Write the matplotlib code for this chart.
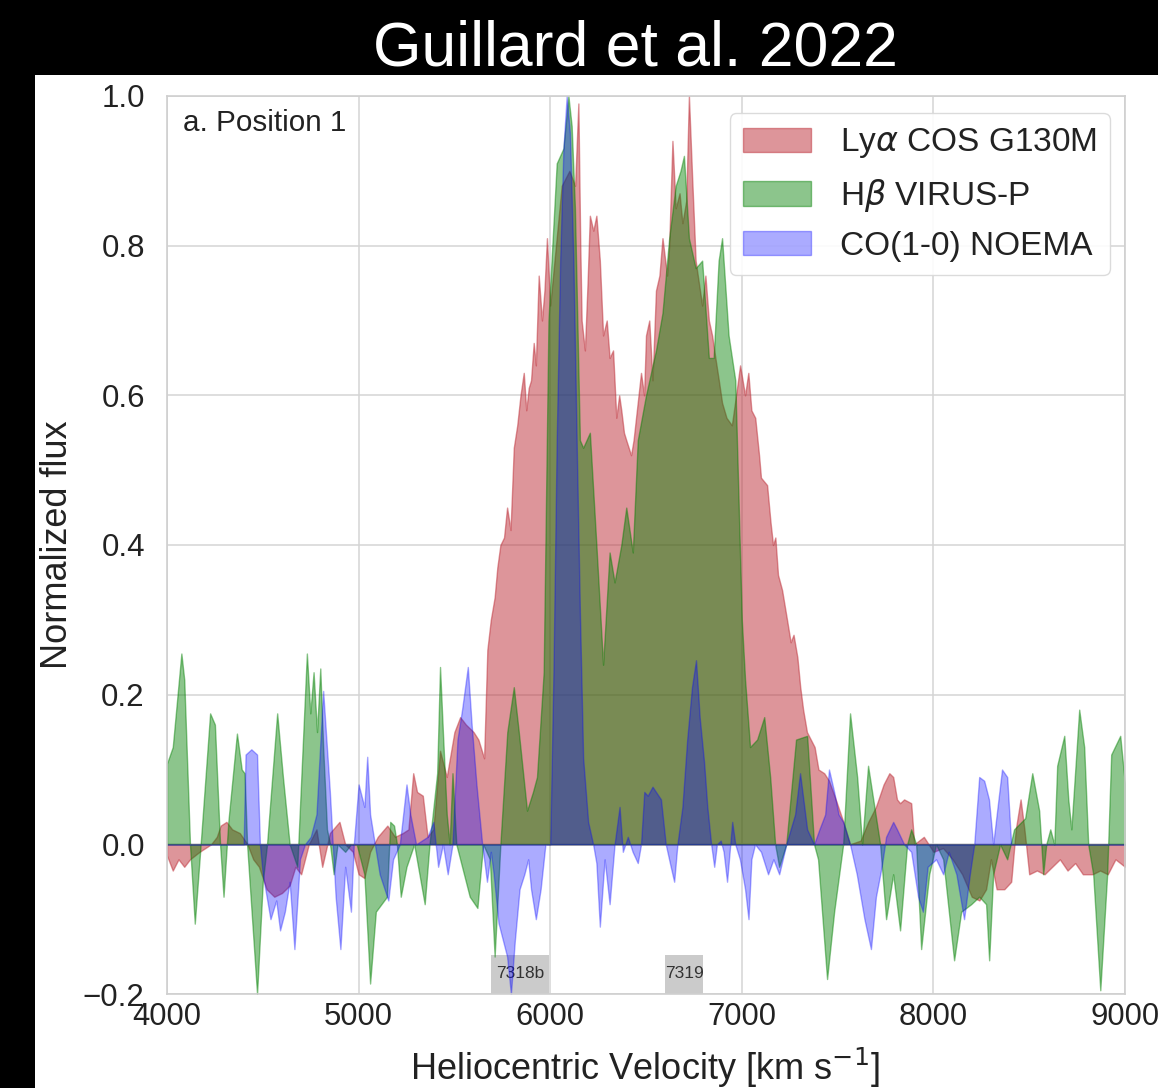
import numpy as np
import matplotlib
matplotlib.use('Agg')
import matplotlib.pyplot as plt
from matplotlib.patches import Rectangle

plt.rcParams['font.family'] = ['Liberation Sans', 'DejaVu Sans']
plt.rcParams['mathtext.fontset'] = 'dejavusans'

# Lya COS G130M
v_lya = [4000, 4030, 4060, 4090, 4120, 4170, 4200, 4230, 4260, 4280, 4310, 4340, 4380, 4420,
         4450, 4480, 4520, 4560, 4600, 4640, 4670, 4700, 4740, 4780, 4810, 4850, 4900, 4930,
         4970, 5000, 5030, 5060, 5100, 5150, 5190, 5230, 5260, 5285, 5305, 5335, 5360, 5390,
         5425, 5460, 5500, 5530, 5560, 5600, 5625, 5655, 5672, 5690, 5710, 5724, 5740, 5759,
         5775, 5793, 5810, 5828, 5845, 5862, 5875, 5888, 5900, 5914, 5925, 5940, 5957, 5970,
         5983, 6000, 6030, 6060, 6100, 6130, 6147, 6157, 6164, 6181, 6195, 6207, 6225, 6241,
         6259, 6276, 6295, 6310, 6328, 6345, 6360, 6371, 6385, 6397, 6422, 6435, 6448, 6474,
         6490, 6500, 6517, 6534, 6552, 6570, 6586, 6610, 6621, 6638, 6655, 6675, 6690, 6710,
         6724, 6741, 6759, 6776, 6793, 6810, 6828, 6845, 6862, 6880, 6897, 6920, 6948, 6970,
         6991, 7017, 7034, 7050, 7070, 7090, 7100, 7132, 7150, 7163, 7175, 7189, 7210, 7236,
         7255, 7270, 7290, 7305, 7320, 7340, 7360, 7380, 7400, 7430, 7455, 7490, 7530, 7565,
         7620, 7660, 7700, 7740, 7770, 7790, 7810, 7826, 7847, 7884, 7900, 7950, 8000, 8050,
         8100, 8150, 8200, 8240, 8275, 8300, 8330, 8370, 8406, 8430, 8455, 8475, 8500, 8540,
         8580, 8620, 8660, 8700, 8740, 8780, 8830, 8870, 8910, 8950, 9000]
f_lya = [-0.015, -0.035, -0.02, -0.03, -0.02, -0.01, -0.005, 0.0, 0.01, 0.025, 0.03, 0.02, 0.015, 0.0,
         -0.02, -0.03, -0.06, -0.07, -0.065, -0.055, -0.03, -0.04, 0.0, 0.02, -0.03, 0.015, 0.03, 0.0,
         -0.01, -0.04, -0.045, -0.01, 0.01, 0.025, 0.01, 0.015, 0.02, 0.095, 0.07, 0.065, 0.01, 0.02,
         0.125, 0.09, 0.15, 0.17, 0.16, 0.15, 0.14, 0.115, 0.26, 0.30, 0.33, 0.37, 0.40, 0.41,
         0.45, 0.42, 0.53, 0.56, 0.60, 0.63, 0.58, 0.61, 0.62, 0.67, 0.64, 0.76, 0.70, 0.74,
         0.81, 0.72, 0.80, 0.88, 0.90, 0.88, 0.99, 0.80, 0.70, 0.66, 0.75, 0.84, 0.82, 0.84,
         0.78, 0.68, 0.70, 0.65, 0.66, 0.57, 0.60, 0.58, 0.55, 0.54, 0.52, 0.54, 0.57, 0.63,
         0.60, 0.68, 0.70, 0.62, 0.74, 0.76, 0.81, 0.76, 0.80, 0.94, 0.85, 0.87, 0.83, 0.86,
         1.0, 0.89, 0.78, 0.75, 0.72, 0.76, 0.70, 0.68, 0.65, 0.62, 0.59, 0.57, 0.56, 0.60,
         0.64, 0.60, 0.63, 0.58, 0.57, 0.52, 0.49, 0.48, 0.43, 0.40, 0.41, 0.36, 0.34, 0.30,
         0.27, 0.28, 0.25, 0.21, 0.18, 0.15, 0.14, 0.13, 0.10, 0.095, 0.085, 0.06, 0.03, 0.0,
         0.005, 0.03, 0.05, 0.08, 0.095, 0.09, 0.06, 0.055, 0.06, 0.055, 0.0, 0.01, -0.01, -0.005,
         -0.02, -0.04, -0.07, -0.075, -0.06, -0.02, -0.06, -0.06, -0.05, 0.02, 0.06, 0.02, -0.04, -0.035,
         -0.04, -0.03, -0.02, -0.035, -0.025, -0.04, -0.04, -0.035, -0.04, -0.02, -0.03]

# Hb VIRUS-P
v_hb = [4000, 4030, 4075, 4090, 4120, 4145, 4170, 4225, 4250, 4277, 4295, 4320, 4365, 4390,
        4405, 4418, 4470, 4500, 4522, 4575, 4605, 4640, 4680, 4730, 4748, 4765, 4783, 4800,
        4815, 4835, 4851, 4870, 4890, 4930, 4960, 4990, 5030, 5060, 5090, 5148, 5165, 5185,
        5200, 5220, 5250, 5290, 5345, 5370, 5410, 5425, 5440, 5460, 5475, 5490, 5510, 5580,
        5620, 5650, 5685, 5710, 5740, 5776, 5810, 5836, 5879, 5910, 5931, 5966, 5991, 6009,
        6034, 6069, 6095, 6112, 6129, 6155, 6172, 6207, 6241, 6276, 6310, 6336, 6371, 6397,
        6431, 6457, 6500, 6552, 6586, 6621, 6655, 6680, 6698, 6724, 6759, 6793, 6828, 6853,
        6879, 6897, 6931, 6966, 6983, 7000, 7017, 7043, 7080, 7117, 7148, 7174, 7195, 7232,
        7283, 7341, 7377, 7398, 7445, 7482, 7529, 7565, 7602, 7628, 7659, 7695, 7722, 7753,
        7790, 7826, 7863, 7884, 7910, 7936, 7978, 8014, 8051, 8108, 8145, 8197, 8239, 8275,
        8291, 8312, 8348, 8385, 8421, 8479, 8516, 8552, 8573, 8589, 8610, 8631, 8646, 8683,
        8704, 8720, 8761, 8787, 8808, 8834, 8871, 8907, 8928, 8975, 9000]
f_hb = [0.108, 0.13, 0.255, 0.22, 0.0, -0.106, -0.02, 0.175, 0.16, 0.0, -0.07, 0.03, 0.148, 0.10,
        0.095, 0.0, -0.2, -0.05, 0.0, 0.175, 0.09, 0.0, -0.03, 0.255, 0.175, 0.23, 0.15, 0.235,
        0.13, 0.02, 0.0, -0.04, 0.0, -0.01, 0.0, 0.0, -0.04, -0.186, -0.09, -0.07, 0.03, 0.025,
        0.0, -0.07, -0.03, 0.0, -0.08, 0.0, 0.095, 0.237, 0.15, 0.04, 0.0, 0.095, 0.0, -0.07,
        -0.085, 0.0, -0.02, -0.15, 0.0, 0.15, 0.21, 0.15, 0.045, 0.07, 0.09, 0.23, 0.70, 0.79,
        0.91, 0.93, 1.0, 0.96, 0.85, 0.54, 0.53, 0.55, 0.40, 0.24, 0.39, 0.35, 0.40, 0.45,
        0.39, 0.54, 0.60, 0.66, 0.71, 0.81, 0.88, 0.90, 0.92, 0.81, 0.77, 0.78, 0.65, 0.65,
        0.78, 0.81, 0.68, 0.62, 0.46, 0.30, 0.22, 0.13, 0.14, 0.17, 0.09, 0.0, -0.03, 0.0,
        0.14, 0.145, 0.0, -0.02, -0.18, -0.09, 0.0, 0.175, 0.09, 0.0, 0.105, 0.045, 0.0, -0.10,
        -0.04, -0.115, 0.0, 0.02, 0.0, -0.14, -0.04, 0.0, -0.02, -0.155, -0.09, -0.08, -0.07, -0.08,
        -0.155, -0.04, 0.0, -0.02, 0.02, 0.035, 0.095, 0.045, -0.04, 0.0, 0.02, 0.0, 0.105, 0.145,
        0.06, 0.02, 0.18, 0.13, 0.0, -0.04, -0.195, -0.04, 0.12, 0.145, 0.08]

# CO(1-0) NOEMA
v_co = [4000, 4400, 4410, 4440, 4470, 4485, 4500, 4540, 4570, 4590, 4615, 4640, 4665, 4694,
        4720, 4750, 4780, 4815, 4850, 4865, 4880, 4905, 4930, 4960, 4975, 5000, 5030, 5045,
        5060, 5085, 5110, 5155, 5180, 5215, 5250, 5270, 5300, 5360, 5390, 5415, 5440, 5465,
        5490, 5516, 5540, 5570, 5590, 5615, 5645, 5670, 5690, 5705, 5730, 5755, 5775, 5795,
        5815, 5840, 5865, 5885, 5900, 5925, 5950, 5975, 6000, 6017, 6034, 6052, 6069, 6086,
        6103, 6121, 6138, 6155, 6172, 6198, 6224, 6241, 6259, 6284, 6310, 6336, 6362, 6379,
        6405, 6430, 6457, 6474, 6491, 6509, 6534, 6552, 6578, 6603, 6629, 6647, 6664, 6690,
        6715, 6740, 6761, 6780, 6803, 6820, 6840, 6856, 6870, 6890, 6905, 6923, 6950, 6966,
        6990, 7017, 7035, 7050, 7069, 7100, 7137, 7165, 7195, 7232, 7278, 7304, 7341, 7377,
        7405, 7435, 7455, 7482, 7505, 7529, 7565, 7600, 7640, 7674, 7700, 7730, 7753, 7790,
        7810, 7847, 7884, 7920, 7945, 7970, 8014, 8051, 8080, 8120, 8160, 8190, 8213, 8239,
        8265, 8290, 8312, 8328, 8358, 8385, 8406, 9000]
f_co = [0.0, 0.0, 0.12, 0.127, 0.12, 0.0, -0.04, -0.1, -0.075, -0.115, -0.09, -0.05, -0.14, -0.02,
        0.0, 0.01, 0.04, 0.205, 0.07, 0.0, -0.07, -0.14, -0.03, -0.09, 0.0, 0.08, 0.05, 0.117,
        0.04, 0.0, -0.04, -0.075, -0.02, 0.0, 0.08, 0.04, 0.0, 0.01, 0.03, -0.03, 0.0, -0.04,
        0.0, 0.14, 0.18, 0.237, 0.16, 0.08, 0.0, -0.05, -0.01, -0.04, -0.105, -0.13, -0.15, -0.2,
        -0.13, -0.06, -0.04, -0.02, -0.06, -0.1, -0.06, 0.0, 0.0, 0.23, 0.54, 0.78, 0.93, 1.0,
        0.95, 0.78, 0.54, 0.31, 0.115, 0.03, 0.0, -0.025, -0.11, -0.02, -0.08, 0.0, 0.05, -0.01,
        0.01, -0.01, -0.025, 0.0, 0.07, 0.065, 0.077, 0.07, 0.06, 0.0, -0.03, -0.05, 0.0, 0.05,
        0.14, 0.21, 0.246, 0.17, 0.11, 0.05, 0.0, -0.03, 0.0, 0.005, -0.01, -0.05, 0.03, 0.0,
        -0.02, -0.06, -0.1, -0.02, 0.0, -0.01, -0.04, -0.02, -0.04, 0.0, 0.04, 0.095, 0.02, 0.0,
        0.02, 0.04, 0.1, 0.07, 0.04, 0.03, 0.0, -0.04, -0.1, -0.14, -0.07, -0.03, 0.01, 0.03,
        0.02, 0.0, -0.01, -0.07, -0.09, -0.03, -0.02, -0.04, -0.01, -0.04, -0.1, -0.04, 0.0, 0.09,
        0.085, 0.06, 0.0, 0.035, 0.1, 0.09, 0.0, 0.0]

# velocity ranges of the absorbing regions marked along the bottom
region_names = ['7318b', '7319']
region_lo = [5691, 6600]
region_hi = [5994, 6797]

xticks = [4000, 5000, 6000, 7000, 8000, 9000]
yticks = [-0.2, 0.0, 0.2, 0.4, 0.6, 0.8, 1.0]

W, H = 1158, 1088
fig = plt.figure(figsize=(W / 100, H / 100), dpi=100, facecolor='black')
fig.patches.append(Rectangle((35 / W, 0), 1 - 35 / W, 1 - 75 / H, transform=fig.transFigure,
                             facecolor='white', edgecolor='none', zorder=-5))
fig.text(635 / W, 1 - 49 / H, 'Guillard et al. 2022', color='white', fontsize=45,
         ha='center', va='center')

ax = fig.add_axes([167 / W, 1 - 994 / H, (1125 - 167) / W, (994 - 96) / H])
ax.set_facecolor('white')
ax.set_axisbelow(True)
ax.grid(True, color='#d4d4d4', lw=1.1)
for s in ax.spines.values():
    s.set_color('#cfcfcf')
    s.set_linewidth(1.2)

ax.fill_between(v_lya, 0, f_lya, color='#bd2d37', alpha=0.5, lw=1, label=r'Ly$\alpha$ COS G130M')
ax.fill_between(v_hb, 0, f_hb, color='green', alpha=0.45, lw=1, label=r'H$\beta$ VIRUS-P')
ax.fill_between(v_co, 0, f_co, color='blue', alpha=0.33, lw=1, label='CO(1-0) NOEMA')

for name, lo, hi in zip(region_names, region_lo, region_hi):
    ax.add_patch(Rectangle((lo, -0.2), hi - lo, 0.052, facecolor='#cbcbcb', edgecolor='none',
                           zorder=0.8))
    ax.text((lo + hi) / 2, -0.172, name, ha='center', va='center', fontsize=12.5,
            color='#333333', zorder=0.9)

ax.set_xlim(4000, 9000)
ax.set_ylim(-0.2, 1.0)
ax.set_xticks(xticks)
ax.set_yticks(yticks)
ax.tick_params(axis='both', length=0, labelcolor='#222222')
ax.tick_params(axis='x', pad=6, labelsize=22.3)
ax.tick_params(axis='y', pad=16, labelsize=22.5)

ax.set_xlabel(r'Heliocentric Velocity [km s$^{-1}$]', fontsize=26, color='#222222')
ax.xaxis.set_label_coords(0.499, -0.0824)
ax.xaxis.label.set_va('center')
ax.set_ylabel('Normalized flux', fontsize=26, color='#222222')
ax.yaxis.set_label_coords(-0.114, 0.5)
ax.yaxis.label.set_va('center')

ax.text(0.0167, 0.97, 'a. Position 1', transform=ax.transAxes, fontsize=21.3,
        ha='left', va='center', color='#222222')

leg = ax.legend(loc='upper right', bbox_to_anchor=(0.9843, 0.981), borderaxespad=0,
                fontsize=24, handlelength=2.05, handleheight=0.75, labelspacing=0.5,
                handletextpad=0.85, borderpad=0.4, fancybox=True, framealpha=0.9)
leg.get_frame().set_edgecolor('#d8d8d8')
for t in leg.get_texts():
    t.set_color('#222222')

fig.savefig('out.png', dpi=100, facecolor=fig.get_facecolor())
